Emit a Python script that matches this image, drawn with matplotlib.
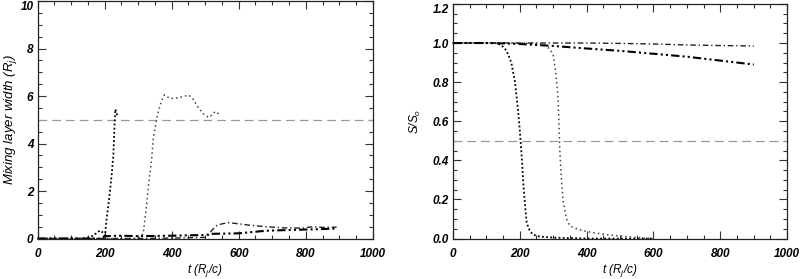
import matplotlib
matplotlib.use("Agg")
import matplotlib.pyplot as plt
from matplotlib.ticker import MultipleLocator

plt.rcParams['font.family'] = ['Liberation Sans', 'DejaVu Sans']
plt.rcParams['mathtext.fontset'] = 'custom'
plt.rcParams['mathtext.rm'] = 'Liberation Sans:italic'
plt.rcParams['mathtext.it'] = 'Liberation Sans:italic'

# ---- Left panel data: mixing layer width ----
t_l1 = [0, 50, 100, 140, 160, 175, 186, 195, 201, 206, 211, 216, 221, 226, 229, 232, 236, 240]
w_l1 = [0, 0, 0, 0, 0.08, 0.22, 0.34, 0.25, 0.12, 0.84, 1.4, 2.0, 2.7, 3.5, 4.6, 5.45, 5.25, 5.15]

t_l2 = [0, 100, 200, 300, 315, 325, 332, 340, 345, 352, 360, 370, 378, 395, 410, 425, 440, 450,
        465, 480, 495, 510, 520, 530, 540, 548]
w_l2 = [0, 0, 0, 0, 0.2, 1.4, 2.4, 3.3, 4.2, 4.8, 5.35, 5.8, 6.05, 5.9, 5.9, 5.95, 6.0, 6.05,
        5.85, 5.5, 5.25, 5.1, 5.2, 5.35, 5.25, 5.2]

t_la = [0, 100, 200, 300, 400, 500, 510, 520, 535, 550, 570, 600, 633, 680, 733, 790, 822, 850, 892]
w_la = [0, 0, 0, 0, 0.02, 0.05, 0.15, 0.35, 0.55, 0.62, 0.67, 0.62, 0.56, 0.5, 0.45, 0.44, 0.5, 0.47, 0.48]

t_lb = [0, 100, 190, 200, 250, 300, 400, 500, 524, 600, 683, 750, 800, 850, 892]
w_lb = [0, 0, 0, 0.1, 0.12, 0.1, 0.12, 0.15, 0.2, 0.22, 0.33, 0.36, 0.38, 0.4, 0.42]

w_ref = 5.0

# ---- Right panel data: S/S0 ----
t_r1 = [0, 50, 100, 126, 145, 161, 175, 186, 195, 201, 206, 211, 216, 221, 230, 240, 260, 300, 400, 500, 600]
s_r1 = [1.0, 1.0, 1.0, 1.0, 0.99, 0.96, 0.9, 0.8, 0.66, 0.54, 0.42, 0.28, 0.17, 0.08, 0.04, 0.02,
        0.01, 0.005, 0.0, 0.0, 0.0]

t_r2 = [0, 100, 200, 270, 290, 300, 308, 315, 320, 325, 330, 340, 350, 370, 390, 420, 460, 500, 550, 600]
s_r2 = [1.0, 1.0, 1.0, 0.995, 0.97, 0.94, 0.85, 0.71, 0.45, 0.3, 0.19, 0.1, 0.065, 0.05, 0.04,
        0.03, 0.02, 0.013, 0.005, 0.0]

t_r3 = [0, 200, 400, 500, 600, 700, 800, 900]
s_r3 = [1.0, 1.0, 1.0, 0.998, 0.995, 0.99, 0.987, 0.985]

t_r4 = [0, 100, 150, 200, 300, 400, 500, 600, 700, 800, 900]
s_r4 = [1.0, 1.0, 0.998, 0.995, 0.985, 0.972, 0.96, 0.945, 0.93, 0.91, 0.89]

s_ref = 0.5

fig = plt.figure(figsize=(8.0, 2.79), dpi=100)
ax1 = fig.add_axes([0.047, 0.145, 0.419, 0.851])
ax2 = fig.add_axes([0.566, 0.145, 0.418, 0.841])

dense = dict(color='black', lw=1.3, linestyle=(0, (1, 1.3)), clip_on=False)
sparse = dict(color='#444444', lw=1.1, linestyle=(0, (1, 2)), clip_on=False)
dashdot = dict(color='#222222', lw=1.0, linestyle=(0, (4, 2, 1, 2)), clip_on=False)
dashdotdot = dict(color='black', lw=1.5, linestyle=(0, (4, 1.5, 1, 1.5, 1, 1.5)), clip_on=False)
refline = dict(color='#999999', lw=0.9, linestyle=(0, (7, 4)))

ax1.axhline(w_ref, **refline)
ax1.plot(t_l1, w_l1, **dense)
ax1.plot(t_l2, w_l2, **sparse)
ax1.plot(t_la, w_la, **dashdot)
ax1.plot(t_lb, w_lb, **dashdotdot)

ax2.axhline(s_ref, **refline)
ax2.plot(t_r1, s_r1, **dense)
ax2.plot(t_r2, s_r2, **sparse)
ax2.plot(t_r3, s_r3, **dashdot)
ax2.plot(t_r4, s_r4, **dashdotdot)

ax1.set_xlim(0, 1000)
ax1.set_ylim(0, 10)
ax2.set_xlim(0, 1000)
ax2.set_ylim(0, 1.2)

ax1.xaxis.set_major_locator(MultipleLocator(200))
ax1.xaxis.set_minor_locator(MultipleLocator(50))
ax1.yaxis.set_major_locator(MultipleLocator(2))
ax1.yaxis.set_minor_locator(MultipleLocator(0.5))
ax2.xaxis.set_major_locator(MultipleLocator(200))
ax2.xaxis.set_minor_locator(MultipleLocator(50))
ax2.yaxis.set_major_locator(MultipleLocator(0.2))
ax2.yaxis.set_minor_locator(MultipleLocator(0.05))
ax2.yaxis.set_major_formatter(plt.FormatStrFormatter('%.1f'))

for ax in (ax1, ax2):
    ax.tick_params(which='both', direction='in', top=True, right=True, color='#333333')
    ax.tick_params(which='major', length=6, width=0.8)
    ax.tick_params(which='minor', length=3, width=0.8)
    ax.tick_params(axis='x', pad=7)
    ax.tick_params(axis='y', pad=3)
    for lab in ax.get_xticklabels() + ax.get_yticklabels():
        lab.set_fontweight('bold')
        lab.set_fontstyle('italic')
        lab.set_fontsize(8.5)
    for sp in ax.spines.values():
        sp.set_linewidth(0.9)
        sp.set_color('#222222')
        sp.set_zorder(3)
    ax.set_xlabel(r'$t$ ($R_j/c$)', fontsize=8.5, fontstyle='italic', labelpad=1)

ax1.set_ylabel('Mixing layer width ($R_j$)', fontsize=9.5, fontstyle='italic', labelpad=1)
ax2.set_ylabel('$S/S_o$', fontsize=8.5, labelpad=7)

fig.canvas.draw()
for ax in (ax1, ax2):
    top = ax.get_ylim()[1]
    for tick in ax.yaxis.get_major_ticks():
        if abs(tick.get_loc() - top) < 1e-6:
            tick.label1.set_verticalalignment('top')

fig.savefig('out.png', dpi=100)
